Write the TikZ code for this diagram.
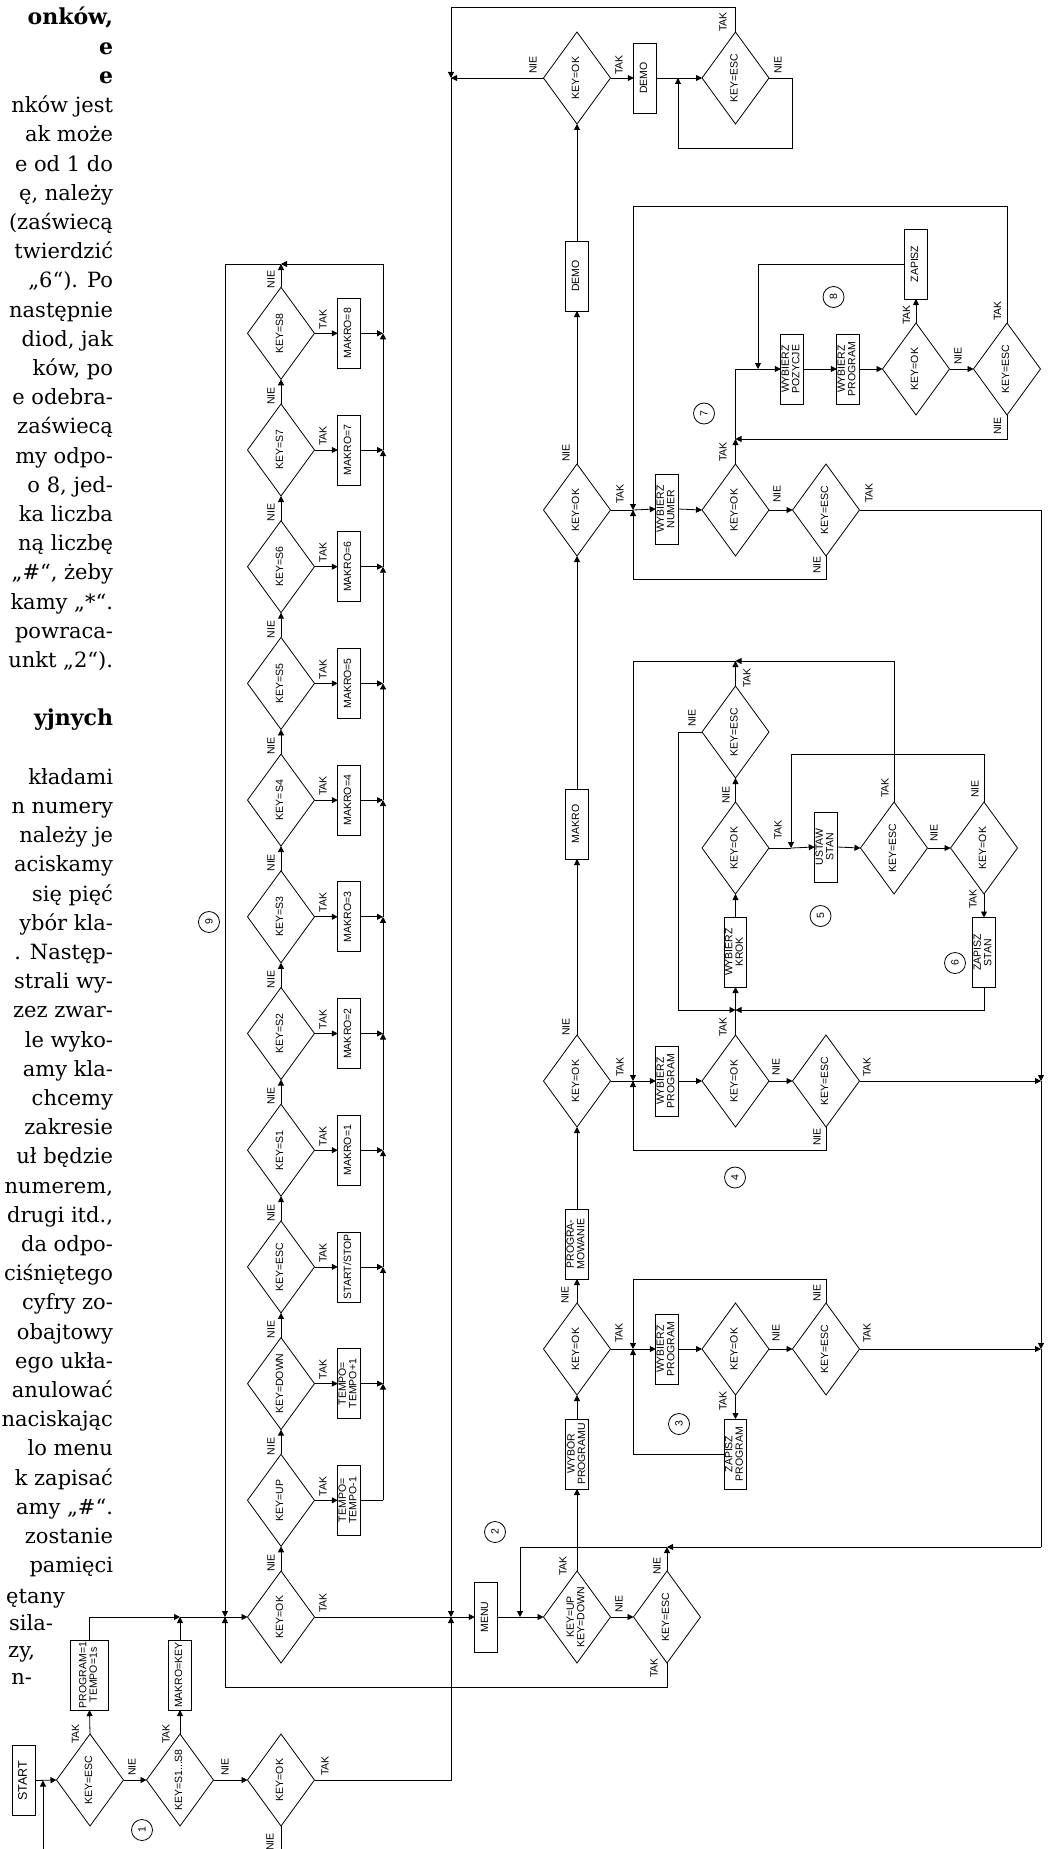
\documentclass[tikz,border=0pt]{standalone}
\usepackage{fontspec}
\setmainfont{Liberation Sans}
\newfontfamily\txtfont{DejaVu Serif}
\usetikzlibrary{shapes.geometric,arrows.meta,calc}
\newcommand\rt[1]{\rotatebox{90}{\begin{tabular}{@{}c@{}}#1\end{tabular}}}
\begin{document}
\begin{tikzpicture}[x=1pt,y=-1pt,
  every node/.style={inner sep=0pt, outer sep=0pt},
  dfont/.style={font=\fontsize{10.5}{10.5}\selectfont},
  box/.style={draw, line width=0.8pt, rectangle, minimum width=22.5pt, minimum height=70pt, dfont},
  dia/.style={draw, line width=0.8pt, diamond, shape aspect=0.73, minimum width=67pt, minimum height=92pt, dfont},
  lab/.style={dfont},
  circ/.style={draw, line width=0.8pt, circle, minimum size=21pt, dfont},
  arr/.style={-{Triangle[length=6pt,width=6pt]}},
  ln/.style={line width=0.8pt},
  txt/.style={font=\txtfont\fontsize{21}{21}\selectfont, anchor=base east},
  txtb/.style={font=\txtfont\bfseries\fontsize{22}{22}\selectfont, anchor=base east},
]
\fill[white] (0,0) rectangle (1049,1849);
\useasboundingbox (0,0) rectangle (1049,1849);

% ---------------- text column ----------------
\node[txtb] (h1) at (113,25) {onków,};
\node[txtb] (h2) at (113,54.3) {e};
\node[txtb] (h3) at (113,83.5) {e};
\foreach \n/\t in {0/nków jest, 1/ak może, 2/e od 1 do, 3/{ę, należy}, 4/(zaświecą, 5/twierdzić,
  6/„6“). Po, 7/następnie, 8/{diod, jak}, 9/{ków, po}, 10/e odebra-, 11/zaświecą, 12/my odpo-,
  13/{o 8, jed-}, 14/ka liczba, 15/ną liczbę, 16/{„\#“, żeby}, 17/kamy „*“., 18/powraca-, 19/unkt „2“).,
  23/kładami, 24/n numery, 25/należy je, 26/aciskamy, 27/się pięć, 28/ybór kla-, 29/. Następ-,
  30/strali wy-, 31/zez zwar-, 32/le wyko-, 33/amy kla-, 34/chcemy, 35/zakresie, 36/uł będzie,
  37/{numerem,}, 38/{drugi itd.,}, 39/da odpo-, 40/ciśniętego, 41/cyfry zo-, 42/obajtowy, 43/ego ukła-,
  44/anulować, 45/naciskając, 46/lo menu, 47/k zapisać, 48/amy „\#“., 49/zostanie, 50/pamięci}
{
  \pgfmathsetmacro\yy{112.7+29.2*\n}
  \node[txt] (t\n) at (113,\yy) {\t};
}
\node[txtb] (t21) at (113,725.9) {yjnych};
\node[txt] (t51) at (65,1603) {ętany};
\node[txt] (t52) at (53,1630) {sila-};
\node[txt] (t53) at (35,1657) {zy,};
\node[txt] (t54) at (32,1684) {n-};

% ---------------- bottom-left row ----------------
\node[box] (start) at (24,1780.5) {\rt{\fontsize{12.5}{12.5}\selectfont START}};
\node[dia] (e0) at (90,1780) {\rt{KEY=ESC}};
\node[box, minimum width=38pt] (p1) at (89.5,1675) {\rt{PROGRAM=1\\TEMPO=1s}};
\node[dia] (s0) at (180,1780) {\rt{KEY=S1...S8}};
\node[box] (mk) at (180,1675) {\rt{MAKRO=KEY}};
\node[dia] (o0) at (281,1780) {\rt{KEY=OK}};

% ---------------- key chain (column 281) ----------------
\node[dia] (c0) at (281,1617) {\rt{KEY=OK}};
\node[dia] (c1) at (281,1500.3) {\rt{KEY=UP}};
\node[dia] (c2) at (281,1383.6) {\rt{KEY=DOWN}};
\node[dia] (c3) at (281,1266.9) {\rt{KEY=ESC}};
\node[box] (k1) at (349,1500.3) {\rt{TEMPO=\\TEMPO-1}};
\node[box] (k2) at (349,1383.6) {\rt{TEMPO=\\TEMPO+1}};
\node[box] (k3) at (349,1266.9) {\rt{START/STOP}};
\foreach \i in {1,...,8} {
  \pgfmathtruncatemacro\m{\i+3}
  \pgfmathsetmacro\yy{1617-116.7*\m}
  \node[dia] (c\m) at (281,\yy) {\rt{KEY=S\i}};
  \node[box] (k\m) at (349,\yy) {\rt{MAKRO=\i}};
}
\coordinate (rr) at (383,0);
\coordinate (jT) at (281,264);
\foreach \i in {1,...,11} {
  \pgfmathtruncatemacro\j{\i-1}
  \draw[ln,arr] (c\j.north) -- (c\i.south);
  \draw[ln,arr] (c\i.east) -- (k\i.west);
}
\foreach \i in {0,...,11} {
  \node[lab] (ta\i) at ($(c\i.east)+(8.5,-14)$) {\rotatebox{90}{TAK}};
  \node[lab] (ni\i) at ($(c\i.north)+(-10,-8)$) {\rotatebox{90}{NIE}};
}
\draw[ln] (k1.east) -- (k1.east -| rr);
\foreach \i in {2,...,11} {
  \pgfmathtruncatemacro\j{\i-1}
  \draw[ln,arr] (k\i.east) -- (k\i.east -| rr);
  \draw[ln,arr] (k\j.east -| rr) -- (k\i.east -| rr);
}
\draw[ln,arr] (c11.north) -- (jT);
\draw[ln,arr] (k11.east -| rr) |- (jT);

% ---------------- main column (577) ----------------
\node[box] (menu) at (486,1617) {\rt{MENU}};
\node[dia] (m0) at (577,1617) {\rt{KEY=UP\\KEY=DOWN}};
\node[dia] (e2) at (667,1617) {\rt{KEY=ESC}};
\node[box] (mb0) at (577,1454) {\rt{WYBÓR\\PROGRAMU}};
\node[dia] (m1) at (577,1349) {\rt{KEY=OK}};
\node[box] (mb1) at (577,1244) {\rt{PROGRA-\\MOWANIE}};
\node[dia] (m2) at (577,1081) {\rt{KEY=OK}};
\node[box] (mb2) at (577,824) {\rt{MAKRO}};
\node[dia] (m3) at (577,510) {\rt{KEY=OK}};
\node[box] (mb3) at (577,276) {\rt{DEMO}};
\node[dia] (m4) at (577,78) {\rt{KEY=OK}};
\draw[ln,arr] (m0.north) -- (mb0.south);
\draw[ln,arr] (mb0.north) -- (m1.south);
\draw[ln,arr] (m1.north) -- (mb1.south);
\draw[ln,arr] (mb1.north) -- (m2.south);
\draw[ln,arr] (m2.north) -- (mb2.south);
\draw[ln,arr] (mb2.north) -- (m3.south);
\draw[ln,arr] (m3.north) -- (mb3.south);
\draw[ln,arr] (mb3.north) -- (m4.south);

% section 3
\node[box] (w3) at (667,1349) {\rt{WYBIERZ\\PROGRAM}};
\node[dia] (o3) at (735.5,1349) {\rt{KEY=OK}};
\node[dia] (e3) at (826,1349) {\rt{KEY=ESC}};
\node[box] (zp) at (735.5,1454) {\rt{ZAPISZ\\PROGRAM}};
% section 4
\node[box] (w4) at (667,1081) {\rt{WYBIERZ\\PROGRAM}};
\node[dia] (o4) at (735.5,1081) {\rt{KEY=OK}};
\node[dia] (e4) at (826,1081) {\rt{KEY=ESC}};
% section 5
\node[box] (wk) at (735.5,952) {\rt{WYBIERZ\\KROK}};
\node[dia] (o5) at (735.5,848) {\rt{KEY=OK}};
\node[dia] (e5) at (735.5,732) {\rt{KEY=ESC}};
\node[box] (us) at (826,847) {\rt{USTAW\\STAN}};
\node[dia] (e5b) at (894,848) {\rt{KEY=ESC}};
\node[dia] (o5b) at (984,848) {\rt{KEY=OK}};
\node[box] (zs) at (984,952.5) {\rt{ZAPISZ\\STAN}};
% section 7
\node[box] (wn) at (667,509) {\rt{WYBIERZ\\NUMER}};
\node[dia] (o7) at (735.5,510) {\rt{KEY=OK}};
\node[dia] (e7) at (826,510) {\rt{KEY=ESC}};
% section 8
\node[box] (wpz) at (792,369) {\rt{WYBIERZ\\POZYCJE}};
\node[box] (wp8) at (848,369) {\rt{WYBIERZ\\PROGRAM}};
\node[dia] (o8) at (916,369) {\rt{KEY=OK}};
\node[dia] (e8) at (1007,369) {\rt{KEY=ESC}};
\node[box] (za) at (916,264) {\rt{ZAPISZ}};
% demo
\node[box] (dm) at (645,78) {\rt{DEMO}};
\node[dia] (ed) at (735.5,78) {\rt{KEY=ESC}};

% circles
\foreach \x/\y/\t in {142/1830/1, 495/1532/2, 679/1424/3, 735/1177.5/4, 820.5/916/5, 955/963/6, 704/413.5/7, 833.5/297/8, 209/922/9}
  \node[circ] (n\t) at (\x,\y) {\rotatebox{90}{\t}};

% labels
\foreach \x/\y/\t [count=\n] in {75.5/1734/TAK, 132/1767/NIE, 166/1734/TAK, 225/1767/NIE, 325/1766/TAK, 270/1842/NIE,
  657/1566/NIE, 654/1668/TAK, 563/1566/TAK, 619/1604/NIE, 565/1295/NIE, 619/1333/TAK,
  776/1333/NIE, 723/1401/TAK, 867/1333/TAK, 817/1293/NIE, 566/1027/NIE, 620/1067/TAK,
  723/1027/TAK, 776/1067/NIE, 867/1067/TAK, 817/1137/NIE, 726/795/NIE, 778/830/TAK,
  692/718/NIE, 747/678/TAK, 885/788/TAK, 934/833/NIE, 975/789/NIE, 973/899/TAK,
  566/453/NIE, 620/494/TAK, 723/452/TAK, 777/494/NIE, 869/493/TAK, 817/565/NIE,
  906.5/315/TAK, 958/356/NIE, 997.5/311/TAK, 997.5/426/NIE, 533/65/NIE, 619/65/TAK,
  723/22/TAK, 778/65/NIE}
  \node[lab] (lb\n) at (\x,\y) {\rotatebox{90}{\t}};

% ---------------- connectors ----------------
\coordinate (jA) at (180,1617);
\coordinate (jB) at (225,1617);
\coordinate (jC) at (451,1617);
\coordinate (jD) at (520,1617);
\coordinate (jE) at (667,1547);
\coordinate (jR) at (1041,1547);
\coordinate (jL) at (451,78);
\coordinate (bot1) at (281,1855);
\coordinate (bot2) at (43,1855);
\coordinate (jS) at (43,1780.5);

\draw[ln,arr] (start.east) -- (e0.west);
\draw[ln,arr] (bot2) -- (jS);
\draw[ln,arr] (e0.north) -- (p1.south);
\draw[ln,arr] (e0.east) -- (s0.west);
\draw[ln,arr] (s0.north) -- (mk.south);
\draw[ln,arr] (s0.east) -- (o0.west);
\draw[ln] (o0.south) -- (bot1);
\draw[ln,arr] (o0.east) -- (451,1780) -- (jC);

\draw[ln,arr] (p1.north) |- (jA);
\draw[ln,arr] (mk.north) -- (jA);
\draw[ln,arr] (jA) -- (c0.west);
\draw[ln,arr] (jT) -- (225,264) -- (jB);
\draw[ln,arr] (e2.south) -- (667,1687) -- (225,1687) -- (jB);
\draw[ln] (c0.east) -- (jC);
\draw[ln,arr] (jC) -- (menu.west);

\draw[ln,arr] (ed.north) -- (735.5,7) -- (451,7) -- (jL);
\draw[ln,arr] (m4.west) -- (jL);
\draw[ln,arr] (jL) -- (jC);

\draw[ln,arr] (menu.east) -- (m0.west);
\draw[ln,arr] (m0.east) -- (e2.west);
\draw[ln,arr] (e2.north) -- (jE);
\draw[ln,arr] (jR) -- (jE);
\draw[ln,arr] (jE) -- (520,1547) -- (jD);

% section 3
\coordinate (j3) at (633,1349);
\draw[ln] (m1.east) -- (j3);
\draw[ln,arr] (e3.north) -- (826,1279) -- (633,1279) -- (j3);
\draw[ln,arr] (zp.west) -- (633,1454) -- (j3);
\draw[ln,arr] (j3) -- (w3.west);
\draw[ln,arr] (w3.east) -- (o3.west);
\draw[ln,arr] (o3.south) -- (zp.north);
\draw[ln,arr] (o3.east) -- (e3.west);

% collector
\coordinate (q7) at (1041,510);
\coordinate (q4) at (1041,1081);
\coordinate (q3) at (1041,1349);
\draw[ln] (e7.east) -- (q7);
\draw[ln,arr] (q7) -- (q4);
\draw[ln,arr] (e4.east) -- (q4);
\draw[ln,arr] (q4) -- (q3);
\draw[ln,arr] (e3.east) -- (q3);
\draw[ln] (q3) -- (jR);

% section 4 and 5
\coordinate (j4) at (633,1081);
\coordinate (j5t) at (735.5,661);
\coordinate (j5) at (735.5,1010);
\coordinate (j6) at (791,848);
\draw[ln] (m2.east) -- (j4);
\draw[ln,arr] (j5t) -- (633,661) -- (j4);
\draw[ln,arr] (e4.south) -- (826,1150) -- (633,1150) -- (j4);
\draw[ln,arr] (j4) -- (w4.west);
\draw[ln,arr] (w4.east) -- (o4.west);
\draw[ln,arr] (o4.east) -- (e4.west);
\draw[ln] (o4.north) -- (j5);
\draw[ln,arr] (j5) -- (wk.south);
\draw[ln,arr] (e5.west) -- (678,732) -- (678,1010) -- (j5);
\draw[ln,arr] (zs.south) -- (984,1010) -- (j5);
\draw[ln,arr] (wk.north) -- (o5.south);
\draw[ln,arr] (o5.north) -- (e5.south);
\draw[ln,arr] (e5.north) -- (j5t);
\draw[ln,arr] (e5b.north) -- (894,661) -- (j5t);
\draw[ln] (o5.east) -- (j6);
\draw[ln,arr] (j6) -- (us.west);
\draw[ln,arr] (o5b.north) -- (984,754) -- (791,754) -- (j6);
\draw[ln,arr] (us.east) -- (e5b.west);
\draw[ln,arr] (e5b.east) -- (o5b.west);
\draw[ln,arr] (o5b.south) -- (zs.north);

% section 7 and 8
\coordinate (j7) at (633,510);
\coordinate (j8) at (735.5,439);
\draw[ln] (m3.east) -- (j7);
\draw[ln,arr] (e8.north) -- (1007,206) -- (633,206) -- (j7);
\draw[ln,arr] (e7.south) -- (826,579) -- (633,579) -- (j7);
\draw[ln,arr] (j7) -- (wn.west);
\draw[ln,arr] (wn.east) -- (o7.west);
\draw[ln,arr] (o7.east) -- (e7.west);
\draw[ln,arr] (o7.north) -- (j8);
\draw[ln,arr] (e8.south) -- (1007,439) -- (j8);
\draw[ln,arr] (j8) -- (735.5,369) -- (wpz.west);
\draw[ln,arr] (za.west) -- (758,264) -- (758,369);
\draw[ln,arr] (wpz.east) -- (wp8.west);
\draw[ln,arr] (wp8.east) -- (o8.west);
\draw[ln,arr] (o8.north) -- (za.south);
\draw[ln,arr] (o8.east) -- (e8.west);

% demo
\coordinate (jdm) at (678,78);
\draw[ln,arr] (m4.east) -- (dm.west);
\draw[ln] (dm.east) -- (jdm);
\draw[ln,arr] (jdm) -- (ed.west);
\draw[ln,arr] (ed.east) -- (792,78) -- (792,148) -- (678,148) -- (jdm);
\end{tikzpicture}
\end{document}
